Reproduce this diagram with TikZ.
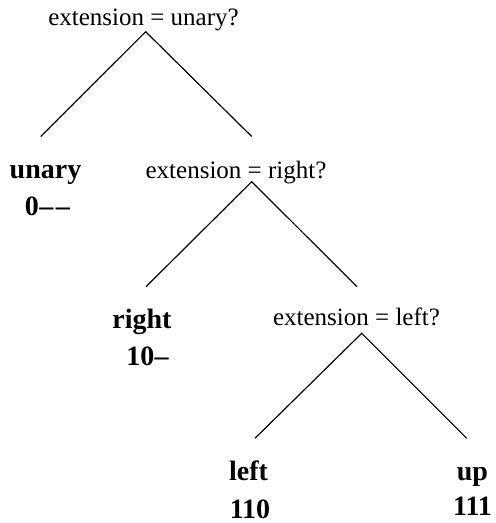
\documentclass[tikz,border=0pt]{standalone}
\usepackage{fontspec}
\setmainfont{Liberation Serif}
\begin{document}
\begin{tikzpicture}[x=1pt,y=-1pt,
  question/.style={anchor=base,inner sep=0pt,font=\fontsize{25}{30}\selectfont},
  leaf/.style={anchor=base,inner sep=0pt,font=\fontsize{28}{34}\selectfont\bfseries},
  branch/.style={line width=1.2pt,line join=miter}]
\useasboundingbox (0,0) rectangle (496,523);

% decision nodes
\node[question] (q1) at (143.5,25) {extension = unary?};
\node[question] (q2) at (236,178) {extension = right?};
\node[question] (q3) at (356.5,325) {extension = left?};

% leaves with their codes
\node[leaf] (unary) at (45.5,178) {unary};
\node[leaf] (unaryc) at (47.3,215) {0\kern0.5pt–\kern2.5pt–};
\node[leaf] (right) at (142,328) {right};
\node[leaf] (rightc) at (147.5,365) {10\kern0.5pt–};
\node[leaf] (left) at (248.5,480) {left};
\node[leaf] (leftc) at (250,518) {110};
\node[leaf] (up) at (472.5,480) {up};
\node[leaf] (upc) at (472.5,515) {111};

% branch points
\coordinate (a1) at (145.7,31.7);
\coordinate (l1) at (40.7,136.5);
\coordinate (r1) at (251.7,136.5);
\coordinate (a2) at (251.7,181.7);
\coordinate (l2) at (146,286.7);
\coordinate (r2) at (357,286.7);
\coordinate (a3) at (361.7,333.3);
\coordinate (l3) at (255,438.3);
\coordinate (r3) at (466.7,438.3);

\draw[branch] (l1) -- (a1) -- (r1);
\draw[branch] (l2) -- (a2) -- (r2);
\draw[branch] (l3) -- (a3) -- (r3);
\end{tikzpicture}
\end{document}
